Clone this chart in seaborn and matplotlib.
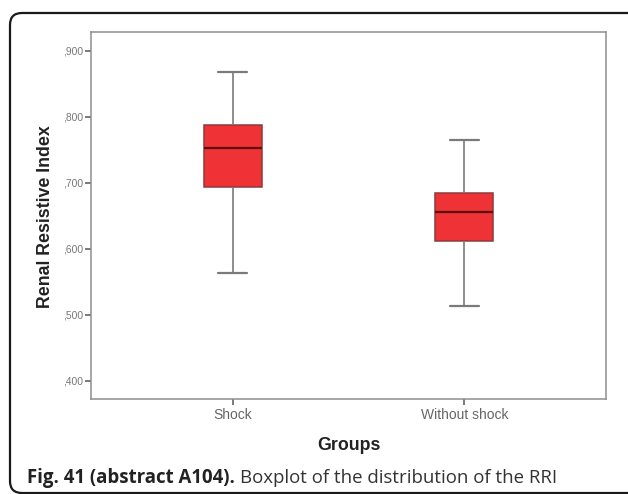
import matplotlib
matplotlib.use("Agg")
import matplotlib.pyplot as plt
import seaborn as sns
import pandas as pd
from matplotlib.patches import FancyBboxPatch
from matplotlib.transforms import IdentityTransform

# Data: five-number summaries
groups = ["Shock", "Without shock"]
shock_values = [0.563, 0.6935, 0.753, 0.787, 0.868]
without_shock_values = [0.513, 0.612, 0.655, 0.685, 0.765]
y_ticks = [0.4, 0.5, 0.6, 0.7, 0.8, 0.9]
y_tick_labels = [",400", ",500", ",600", ",700", ",800", ",900"]

df = pd.DataFrame({
    "Groups": [groups[0]] * len(shock_values) + [groups[1]] * len(without_shock_values),
    "RRI": shock_values + without_shock_values,
})

sns.set_theme(style="white")
plt.rcParams["font.family"] = ["Liberation Sans", "DejaVu Sans"]

fig = plt.figure(figsize=(6.28, 4.94), dpi=100)
ax = fig.add_axes([91 / 628, 1 - 399 / 494, 515 / 628, 367 / 494])

sns.boxplot(
    data=df, x="Groups", y="RRI", order=groups, ax=ax,
    width=0.25, color="#ee3236", saturation=1, whis=1.5,
    linecolor="#7a7a7a", linewidth=1.1, fliersize=0,
    boxprops=dict(edgecolor="#8b3a3a"),
    medianprops=dict(color="#5e1010", linewidth=1.6),
    whiskerprops=dict(color="#7a7a7a", linewidth=1.2),
    capprops=dict(color="#7a7a7a", linewidth=1.6),
)

ax.set_xlim(-0.61, 1.61)
ax.set_ylim(0.3727, 0.928)
ax.set_yticks(y_ticks)
ax.set_yticklabels(y_tick_labels)

for s in ax.spines.values():
    s.set_visible(True)
    s.set_color("#8e8e8e")
    s.set_linewidth(1.1)

ax.tick_params(axis="y", which="major", left=True, length=4, width=1.1,
               color="#555555", labelsize=7.4, labelcolor="#777777", pad=1.5)
ax.tick_params(axis="x", which="major", bottom=True, length=4.5, width=1.1,
               color="#555555", labelsize=10, labelcolor="#666666", pad=2)

ax.set_ylabel("Renal Resistive Index", fontsize=12.8, fontweight="bold", color="#222222")
ax.yaxis.label.set(va="center", rotation_mode="anchor")
ax.yaxis.set_label_coords(-0.0893, 0.497)
ax.set_xlabel("Groups", fontsize=12.8, fontweight="bold", color="#222222")
ax.xaxis.label.set(va="center")
ax.xaxis.set_label_coords(0.5, -0.127)

# Outer rounded frame
frame = FancyBboxPatch((10, 1), 640, 480, boxstyle="round,pad=0,rounding_size=12",
                       transform=IdentityTransform(), fill=False, lw=1.6,
                       ec="#1a1a1a")
fig.add_artist(frame)

# Caption
cap_y = 1 - 478 / 494
t1 = fig.text(27 / 628, cap_y, "Fig. 41 (abstract A104).", fontsize=13.4,
              fontweight="bold", family=["Open Sans", "DejaVu Sans"],
              color="#222222", va="center", ha="left")
fig.canvas.draw()
bb = t1.get_window_extent(renderer=fig.canvas.get_renderer())
fig.text((bb.x1 + 5) / 628, cap_y, "Boxplot of the distribution of the RRI",
         fontsize=13.4, family=["Open Sans", "DejaVu Sans"], color="#333333",
         va="center", ha="left")

fig.savefig("out.png", dpi=100)
